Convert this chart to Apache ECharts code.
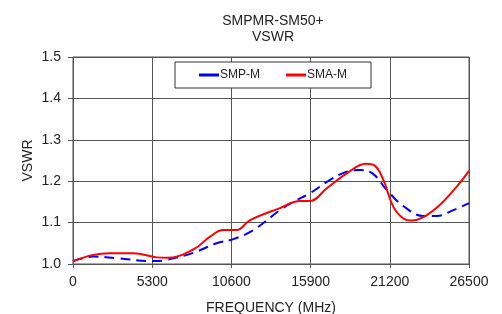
<!DOCTYPE html>
<html><head><meta charset="utf-8">
<script src="https://cdn.jsdelivr.net/npm/echarts@6/dist/echarts.min.js"></script>
<style>html,body{margin:0;padding:0;background:#fff}#c{width:502px;height:314px}</style>
</head><body><div id="c"></div>
<script>
const titleLines = ["SMPMR-SM50+", "VSWR"];
const xTicks = [0, 5300, 10600, 15900, 21200, 26500];
const smpFreq = [0, 1360, 2920, 5370, 6270, 8050, 9610, 10730, 12070, 13850, 14740, 15860, 17200, 18320, 19210, 20100, 20990, 22110, 23450, 24340, 25450, 26500];
const smpVswr = [1.007, 1.018, 1.014, 1.007, 1.010, 1.027, 1.050, 1.060, 1.082, 1.130, 1.150, 1.171, 1.203, 1.223, 1.227, 1.217, 1.179, 1.140, 1.116, 1.116, 1.130, 1.147];
const smaFreq = [0, 1360, 2476, 4036, 5600, 6270, 8050, 9170, 10060, 10950, 11850, 13850, 15190, 15860, 16980, 18320, 19590, 20210, 20770, 21440, 22110, 22670, 23450, 24560, 25680, 26500];
const smaVswr = [1.007, 1.022, 1.026, 1.026, 1.016, 1.015, 1.035, 1.066, 1.082, 1.082, 1.106, 1.135, 1.152, 1.152, 1.183, 1.219, 1.242, 1.237, 1.203, 1.138, 1.110, 1.105, 1.113, 1.143, 1.187, 1.225];

const pairs = (xs, ys) => xs.map((x, i) => [x, ys[i]]);
const chart = echarts.init(document.getElementById('c'), null, {renderer: 'canvas'});
const font = 'Liberation Sans, Arial, sans-serif';
chart.setOption({
  animation: false,
  title: {
    text: titleLines.join('\n'), left: 268, top: 8, textAlign: 'center',
    textStyle: {fontFamily: font, fontSize: 14, fontWeight: 'normal', color: '#222', lineHeight: 16}
  },
  legend: {
    left: 175, top: 62, width: 194, height: 26,
    padding: [7, 24, 7, 24],
    backgroundColor: '#fff', borderColor: '#333', borderWidth: 1, borderRadius: 0,
    icon: 'rect', itemWidth: 20, itemHeight: 3, itemGap: 26,
    textStyle: {fontFamily: font, fontSize: 12, color: '#222', padding: [0, 0, 0, -4]},
    data: ['SMP-M', 'SMA-M']
  },
  grid: {left: 73, right: 33, top: 57, bottom: 50, show: true, borderColor: '#555', borderWidth: 1,
    containLabel: false, outerBoundsMode: 'none'},
  xAxis: {
    type: 'value', min: 0, max: 26500, interval: 5300,
    name: 'FREQUENCY (MHz)', nameLocation: 'middle', nameGap: 37, nameMoveOverlap: false,
    nameTextStyle: {fontFamily: font, fontSize: 14, color: '#222'},
    axisLine: {lineStyle: {color: '#555'}},
    axisTick: {show: true, length: 4, lineStyle: {color: '#555'}},
    axisLabel: {fontFamily: font, fontSize: 14, color: '#222', margin: 11,
      formatter: v => xTicks.includes(v) ? String(v) : ''},
    splitLine: {lineStyle: {color: '#555', width: 1}}
  },
  yAxis: {
    type: 'value', min: 1.0, max: 1.5, interval: 0.1,
    name: 'VSWR', nameLocation: 'middle', nameGap: 38, nameMoveOverlap: false,
    nameTextStyle: {fontFamily: font, fontSize: 14, color: '#222'},
    axisLine: {show: true, lineStyle: {color: '#555'}},
    axisTick: {show: true, length: 5, lineStyle: {color: '#555'}},
    axisLabel: {fontFamily: font, fontSize: 14, color: '#222', margin: 12, formatter: v => v.toFixed(1)},
    splitLine: {lineStyle: {color: '#555', width: 1}}
  },
  series: [
    {name: 'SMP-M', type: 'line', data: pairs(smpFreq, smpVswr), smooth: 0.4, showSymbol: false,
      color: '#0000ff', lineStyle: {color: '#0000ff', width: 2, type: [10, 6]}},
    {name: 'SMA-M', type: 'line', data: pairs(smaFreq, smaVswr), smooth: 0.4, showSymbol: false,
      color: '#ff0000', lineStyle: {color: '#ff0000', width: 2}}
  ]
});
</script></body></html>
